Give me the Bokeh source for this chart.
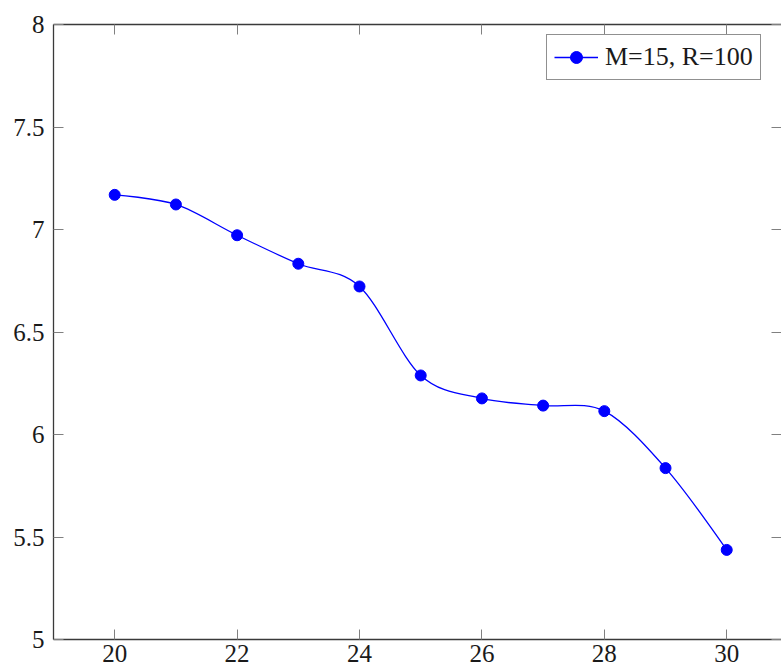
import numpy as np
from bokeh.plotting import figure
from bokeh.models import (LinearAxis, Range1d, Legend, LegendItem, FixedTicker,
                          CustomLabelingPolicy)
from bokeh.embed import file_html
from bokeh.resources import INLINE

# ---- data ----
x_vals = [20, 21, 22, 23, 24, 25, 26, 27, 28, 29, 30]
y_vals = [7.169, 7.122, 6.972, 6.833, 6.722, 6.288, 6.176, 6.141, 6.114, 5.836, 5.437]
series_label = "M=15, R=100"
x_ticks = [20, 22, 24, 26, 28, 30]
y_ticks = [5, 5.5, 6, 6.5, 7, 7.5, 8]

FONT = "Liberation Serif"
BLUE = "#0000ff"
FRAME = "#3a3a3a"
TICK = "#808080"

p = figure(width=781, height=668, output_backend="svg", toolbar_location=None,
           x_range=Range1d(19, 30.895), y_range=Range1d(5, 8),
           min_border_left=53, min_border_top=24, min_border_right=0, min_border_bottom=29,
           x_axis_location=None, y_axis_location=None)
p.grid.visible = False
p.outline_line_color = None
p.background_fill_color = "white"
p.border_fill_color = "white"

no_labels = CustomLabelingPolicy(code="""
for (const i of indices)
    indices.unset(i)
""")

def style_axis(ax, ticks, labels=True, line=True):
    ax.ticker = FixedTicker(ticks=ticks)
    ax.major_tick_in = 10
    ax.major_tick_out = 0
    ax.minor_tick_in = 0
    ax.minor_tick_out = 0
    ax.major_tick_line_color = TICK
    ax.major_tick_line_width = 1
    ax.axis_line_color = FRAME
    ax.axis_line_width = 1.3
    ax.major_label_text_font = FONT
    ax.major_label_text_color = "#1a1a1a"
    if labels:
        ax.major_label_overrides = {t: f"{t:g}" for t in ticks}
        ax.major_label_text_font_size = "25px"
    else:
        ax.major_label_policy = no_labels
        ax.major_label_text_font_size = "0px"
        ax.major_label_standoff = 0
    if not line:
        ax.axis_line_alpha = 0

bottom = LinearAxis()
style_axis(bottom, x_ticks)
bottom.major_label_standoff = 5
p.add_layout(bottom, "below")

left = LinearAxis()
style_axis(left, y_ticks)
left.major_label_standoff = 9
p.add_layout(left, "left")

top = LinearAxis()
style_axis(top, x_ticks, labels=False)
p.add_layout(top, "above")

right = LinearAxis()
style_axis(right, y_ticks, labels=False, line=False)
p.add_layout(right, "right")

# ---- smooth curve (TikZ-like smooth) via bezier control points ----
xs = np.array(x_vals, dtype=float)
ys = np.array(y_vals, dtype=float)
n = len(xs)
k = 0.16
dx = np.zeros(n); dy = np.zeros(n)
dx[1:-1] = xs[2:] - xs[:-2]
dy[1:-1] = ys[2:] - ys[:-2]
cx0 = xs[:-1] + k * dx[:-1]
cy0 = ys[:-1] + k * dy[:-1]
cx1 = xs[1:] - k * dx[1:]
cy1 = ys[1:] - k * dy[1:]

bez = p.bezier(x0=xs[:-1], y0=ys[:-1], x1=xs[1:], y1=ys[1:],
               cx0=cx0, cy0=cy0, cx1=cx1, cy1=cy1,
               line_color=BLUE, line_width=1.3)
sc = p.scatter(x=x_vals, y=y_vals, size=11, fill_color=BLUE, line_color=BLUE, marker="circle")

legend = Legend(items=[LegendItem(label=series_label, renderers=[bez, sc])],
                location=(493, 559), margin=0)
legend.label_text_font = FONT
legend.label_text_font_size = "26px"
legend.label_text_color = "#1a1a1a"
legend.border_line_color = "#222222"
legend.border_line_width = 1.3
legend.padding = 7
legend.spacing = 0
legend.glyph_width = 44
legend.glyph_height = 30
legend.label_standoff = 7
legend.background_fill_alpha = 1
p.add_layout(legend, "center")

open("out.html", "w").write(file_html(p, INLINE))
